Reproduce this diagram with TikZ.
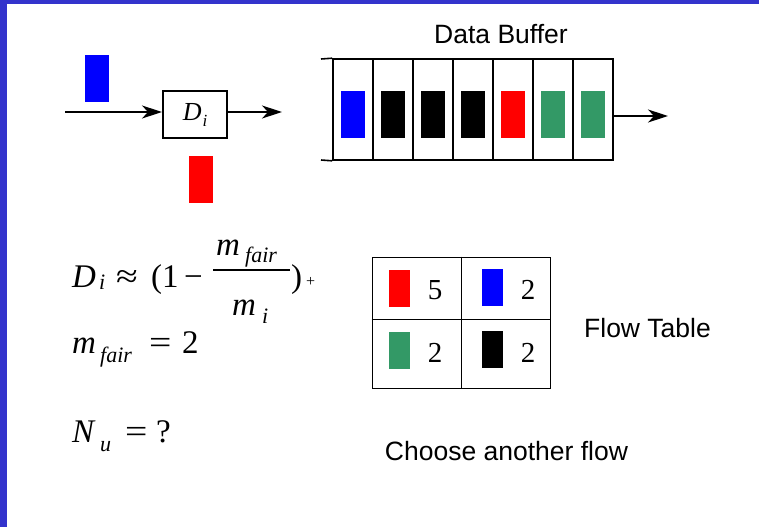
\documentclass[tikz,border=0pt]{standalone}
\usepackage{fontspec}
\usepackage{graphicx}
\setmainfont{Liberation Serif}
\newfontfamily\arial{Liberation Sans}
\usetikzlibrary{arrows.meta}
\definecolor{framecol}{RGB}{51,51,204}
\definecolor{flowgreen}{RGB}{51,153,102}

\begin{document}
\begin{tikzpicture}[x=1pt,y=-1pt] % dropping and flow table slide
\tikzstyle{every node}+=[inner sep=0pt]
\tikzstyle{packet}=[minimum width=24pt,minimum height=47pt]
\tikzstyle{chip}=[minimum width=21pt,minimum height=37pt]
\tikzstyle{slot}=[draw,line width=1.6pt,minimum width=40pt,minimum height=101pt]
\tikzstyle{flowarrow}=[line width=1.6pt,-{Stealth[length=20pt,width=13pt,inset=6pt]}]
\tikzstyle{sanslabel}=[anchor=base,font=\arial\fontsize{26.5}{30}\selectfont]
\tikzstyle{bigvar}=[anchor=base west,font=\fontsize{33}{40}\selectfont]
\tikzstyle{smallvar}=[anchor=base west,font=\fontsize{22}{26}\selectfont\itshape]
\tikzstyle{count}=[anchor=base,font=\fontsize{29}{34}\selectfont]
\useasboundingbox (0,0) rectangle (759,527);
\fill[white] (0,0) rectangle (759,527);
\fill[framecol] (0,0) rectangle (759,4);
\fill[framecol] (0,0) rectangle (7,527);
% dropper
\node[packet,fill=blue] (bluein) at (97,78.5) {};
\node[packet,fill=red] (redout) at (201,179.5) {};
\node[draw,line width=2pt,minimum width=64pt,minimum height=47pt] (drop) at (195,114.5)
  {\fontsize{26}{30}\selectfont\textit{D}\hspace{1pt}\raisebox{-6pt}{\fontsize{17}{20}\selectfont\itshape i}};
\coordinate (src) at (65,112);
\coordinate (dropout) at (282,112);
\draw[flowarrow] (src) -- (drop.west |- src);
\draw[flowarrow] (drop.east |- dropout) -- (dropout);
% buffer
\foreach \c [count=\i] in {blue,black,black,black,red,flowgreen,flowgreen} {
  \node[slot] (cell\i) at (313+40*\i,109.5) {};
  \node[packet,fill=\c] (pkt\i) at ([yshift=-4.5pt]cell\i.center) {};
}
\coordinate (tailtop) at (321,59);
\coordinate (tailbot) at (321,160);
\draw[line width=1.6pt] (tailtop) -- (cell1.north west);
\draw[line width=1.6pt] (tailbot) -- (cell1.south west);
\coordinate (bufout) at (668,116);
\draw[flowarrow] (cell7.east |- bufout) -- (bufout);
\node[sanslabel] (buftitle) at (501,44) {Data Buffer};
% D_i formula
\node[bigvar] (dvar) at (72,287) {\textit{D}};
\node[smallvar] (dsub) at (99,289) {i};
\node[bigvar] (dapprox) at (116,287) {\scalebox{1.2}[1]{≈}};
\node[bigvar] (dparen) at (151,287) {(1};
\node[bigvar] (dminus) at (184,287) {−};
\node[bigvar] (numvar) at (216,255) {\textit{m}};
\node[smallvar] (numsub) at (245,262) {fair};
\node[bigvar] (denvar) at (232,315) {\textit{m}};
\node[smallvar] (densub) at (262,323) {i};
\draw[line width=1.4pt] (213,270) -- (290,270);
\node[bigvar] (dclose) at (291,287) {)};
\node[anchor=base west,font=\fontsize{16}{20}\selectfont] (dplus) at (306,286) {+};
% m_fair and N_u
\node[bigvar] (mvar) at (72,353) {\textit{m}};
\node[smallvar] (msub) at (100,362) {fair};
\node[bigvar] (meq) at (149,353) {\scalebox{1.2}[1]{=}};
\node[bigvar] (mval) at (182,353) {2};
\node[bigvar] (nvar) at (72,442) {\textit{N}};
\node[smallvar] (nsub) at (100,451) {u};
\node[bigvar] (neq) at (125,442) {\scalebox{1.2}[1]{=}};
\node[bigvar] (nval) at (156,442) {?};
% flow table
\node[draw,line width=1pt,minimum width=178pt,minimum height=131pt] (flowtab) at (461,322.5) {};
\draw[line width=1pt] (flowtab.north) -- (flowtab.south);
\draw[line width=1pt] (flowtab.west |- 0,319) -- (flowtab.east |- 0,319);
\node[chip,fill=red] (chipred) at (399.5,288.5) {};
\node[chip,fill=blue] (chipblue) at (492.5,287.5) {};
\node[chip,fill=flowgreen] (chipgreen) at (399.5,350.5) {};
\node[chip,fill=black] (chipblack) at (492.5,349.5) {};
\node[count] (nred) at (435,299) {5};
\node[count] (nblue) at (528,299) {2};
\node[count] (ngreen) at (435,362) {2};
\node[count] (nblack) at (528,362) {2};
\node[sanslabel] (tabtitle) at (647.5,337) {Flow Table};
\node[sanslabel] (choose) at (506.5,460) {Choose another flow};
\end{tikzpicture}
\end{document}
